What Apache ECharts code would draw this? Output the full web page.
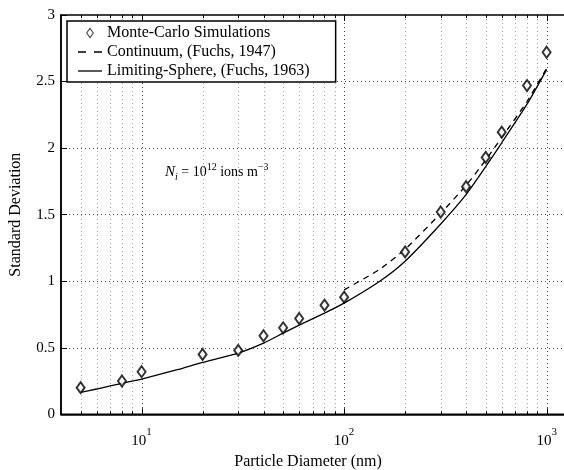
<!DOCTYPE html>
<html>
<head>
<meta charset="utf-8">
<script src="https://cdn.jsdelivr.net/npm/echarts@6.0.0/dist/echarts.min.js"></script>
<style>
  html, body { margin: 0; padding: 0; background: #fff; }
  #main { width: 564px; height: 470px; }
</style>
</head>
<body>
<div id="main"></div>
<script>
// Monte-Carlo points
const mcDiameter = [5, 8, 10, 20, 30, 40, 50, 60, 80, 100, 200, 300, 400, 500, 600, 800, 1000];
const mcStd = [0.20, 0.25, 0.32, 0.45, 0.48, 0.59, 0.65, 0.72, 0.82, 0.88, 1.22, 1.52, 1.71, 1.93, 2.12, 2.47, 2.72];

// Limiting-Sphere curve (Fuchs 1963)
const limDiameter = [5, 6, 8, 10, 15, 20, 30, 40, 50, 60, 80, 100, 150, 200, 300, 400, 500, 600, 800, 1000];
const limStd = [0.165, 0.19, 0.233, 0.265, 0.335, 0.39, 0.46, 0.535, 0.61, 0.67, 0.76, 0.835, 1.0, 1.15, 1.43, 1.65, 1.86, 2.04, 2.33, 2.59];

// Continuum curve (Fuchs 1947)
const contDiameter = [100, 150, 200, 300, 400, 500, 600, 800, 1000];
const contStd = [0.935, 1.09, 1.24, 1.51, 1.72, 1.91, 2.08, 2.35, 2.60];

// x grid lines / ticks
const majorTicks = [10, 100, 1000];
const minorTicks = [5, 6, 7, 8, 9, 20, 30, 40, 50, 60, 70, 80, 90, 200, 300, 400, 500, 600, 700, 800, 900];

const serif = 'Liberation Serif';
const zip = (xs, ys) => xs.map((x, i) => [x, ys[i]]);

const tickData = majorTicks.map(v => [v, 1]).concat(minorTicks.map(v => [v, 0]));

// legend icons (outline diamond, dashed and solid strokes)
const iconDiamond = 'path://M5,0L10,7L5,14L0,7ZM5,2.2L1.5,7L5,11.8L8.5,7Z';
const iconDashed = 'path://M0,0H8V1.3H0ZM16,0H24V1.3H16Z';
const iconSolid = 'path://M0,0H24V1.3H0Z';

var myChart = echarts.init(document.getElementById('main'));
myChart.setOption({
  animation: false,
  backgroundColor: '#fff',
  textStyle: { fontFamily: serif, color: '#000' },
  grid: {
    left: 61, top: 15, width: 546.6, height: 399.3,
    outerBoundsMode: 'none',
    containLabel: false,
    show: true, borderColor: '#000', borderWidth: 1.5
  },
  legend: {
    orient: 'vertical',
    left: 67, top: 21,
    padding: [4, 26, 3, 11],
    itemGap: 3,
    itemWidth: 24,
    itemHeight: 11,
    symbolKeepAspect: true,
    backgroundColor: '#fff',
    borderColor: '#000',
    borderWidth: 1.5,
    borderRadius: 0,
    textStyle: { fontFamily: serif, fontSize: 16, color: '#000', lineHeight: 16 },
    data: [
      { name: 'Monte-Carlo Simulations', icon: iconDiamond, itemStyle: { color: '#000', borderWidth: 0 } },
      { name: 'Continuum, (Fuchs, 1947)', icon: iconDashed, itemStyle: { color: '#000', borderWidth: 0 } },
      { name: 'Limiting-Sphere, (Fuchs, 1963)', icon: iconSolid, itemStyle: { color: '#000', borderWidth: 0 } }
    ]
  },
  xAxis: {
    type: 'log',
    logBase: 10,
    min: 4,
    max: 2000,
    axisLine: { show: true, lineStyle: { color: '#000', width: 1.5 } },
    axisTick: { show: false },
    splitLine: { show: false },
    axisLabel: {
      margin: 12,
      color: '#000',
      fontFamily: serif,
      fontSize: 15,
      formatter: function (v) {
        const e = Math.round(Math.log10(v));
        if (Math.abs(Math.log10(v) - e) > 1e-6) return '';
        return '{b|10}{s|' + e + '}';
      },
      rich: {
        b: { fontFamily: serif, fontSize: 15, color: '#000', verticalAlign: 'bottom', lineHeight: 22 },
        s: { fontFamily: serif, fontSize: 11, color: '#000', verticalAlign: 'top', lineHeight: 22 }
      }
    }
  },
  yAxis: {
    type: 'value',
    min: 0,
    max: 3,
    interval: 0.5,
    name: 'Standard Deviation',
    nameLocation: 'middle',
    nameGap: 37,
    nameTextStyle: { fontFamily: serif, fontSize: 16, color: '#000' },
    axisLine: { show: true, lineStyle: { color: '#000', width: 1.5 } },
    axisTick: { show: true, inside: true, length: 6, lineStyle: { color: '#000' } },
    axisLabel: { margin: 6, color: '#000', fontFamily: serif, fontSize: 15 },
    splitLine: { show: true, lineStyle: { color: '#444', width: 1, type: [1, 3] } }
  },
  graphic: [
    {
      type: 'text',
      x: 165, y: 172,
      style: {
        text: '{n|N}{i|i}{t| = 10}{s|12}{t| ions m}{s|\u22123}',
        verticalAlign: 'middle',
        rich: {
          n: { fontFamily: serif, fontStyle: 'italic', fontSize: 15, fill: '#000', lineHeight: 20, verticalAlign: 'middle' },
          i: { fontFamily: serif, fontStyle: 'italic', fontSize: 10, fill: '#000', lineHeight: 20, verticalAlign: 'bottom' },
          t: { fontFamily: serif, fontSize: 14, fill: '#000', lineHeight: 20, verticalAlign: 'middle' },
          s: { fontFamily: serif, fontSize: 10, fill: '#000', lineHeight: 20, verticalAlign: 'top' }
        }
      }
    },
    {
      type: 'text',
      x: 308, y: 462,
      style: { text: 'Particle Diameter (nm)', fontFamily: serif, fontSize: 16, fill: '#000', align: 'center', verticalAlign: 'middle' }
    }
  ],
  series: [
    {
      name: 'xgrid',
      type: 'custom',
      silent: true,
      z: 1,
      data: tickData,
      encode: { x: 0, y: 1 },
      renderItem: function (params, api) {
        const x = Math.round(api.coord([api.value(0), 0])[0]) + 0.5;
        const cs = params.coordSys;
        const top = cs.y, bottom = cs.y + cs.height;
        const major = api.value(1) === 1;
        const len = major ? 6 : 3;
        return {
          type: 'group',
          children: [
            { type: 'line', shape: { x1: x, y1: top, x2: x, y2: bottom },
              style: { stroke: major ? '#444' : '#aaa', lineWidth: 1, lineDash: [1, 3] } },
            { type: 'line', shape: { x1: x, y1: bottom, x2: x, y2: bottom - len },
              style: { stroke: '#000', lineWidth: 1 } },
            { type: 'line', shape: { x1: x, y1: top, x2: x, y2: top + len },
              style: { stroke: '#000', lineWidth: 1 } }
          ]
        };
      }
    },
    {
      name: 'Limiting-Sphere, (Fuchs, 1963)',
      type: 'line',
      symbol: 'none',
      smooth: 0.2,
      z: 3,
      data: zip(limDiameter, limStd),
      lineStyle: { color: '#000', width: 1.3, type: 'solid' },
      itemStyle: { color: '#000' }
    },
    {
      name: 'Continuum, (Fuchs, 1947)',
      type: 'line',
      symbol: 'none',
      smooth: 0.2,
      z: 3,
      data: zip(contDiameter, contStd),
      lineStyle: { color: '#000', width: 1.3, type: [6, 5] },
      itemStyle: { color: '#000' }
    },
    {
      name: 'Monte-Carlo Simulations',
      type: 'scatter',
      symbol: 'emptyDiamond',
      symbolSize: [8, 11],
      z: 4,
      data: zip(mcDiameter, mcStd),
      itemStyle: { color: '#000', borderColor: '#000', borderWidth: 1.3 }
    }
  ]
});
</script>
</body>
</html>
